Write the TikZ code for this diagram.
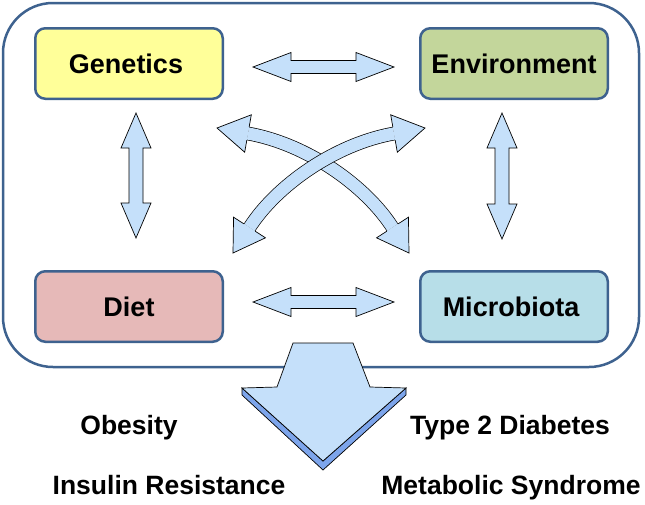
\documentclass[tikz,border=0pt]{standalone}
\usepackage{fontspec}
\setmainfont{Liberation Sans}
\usetikzlibrary{calc}
\definecolor{frameblue}{RGB}{62,98,143}
\definecolor{genfill}{RGB}{255,255,153}
\definecolor{envfill}{RGB}{195,214,155}
\definecolor{dietfill}{RGB}{230,185,184}
\definecolor{microfill}{RGB}{183,222,232}
\definecolor{arrowfill}{RGB}{197,224,250}
\definecolor{shadowblue}{RGB}{125,165,235}
% straight double arrow: from, to, head length, head half width, shaft half width
\newcommand\fatdbl[5]{%
  \draw[fatarrow] (#1)
    -- ($(#1)!#3!(#2)!#4!90:(#2)$)
    -- ($(#1)!#3!(#2)!#5!90:(#2)$)
    -- ($(#2)!#3!(#1)!#5!-90:(#1)$)
    -- ($(#2)!#3!(#1)!#4!-90:(#1)$)
    -- (#2)
    -- ($(#2)!#3!(#1)!#4!90:(#1)$)
    -- ($(#2)!#3!(#1)!#5!90:(#1)$)
    -- ($(#1)!#3!(#2)!#5!-90:(#2)$)
    -- ($(#1)!#3!(#2)!#4!-90:(#2)$)
    -- cycle;}
% head of a curved arrow: base, tip
\newcommand\curvedhead[2]{%
  \fill[arrowfill] ($(#1)!19pt!90:(#2)$) -- (#2) -- ($(#1)!19pt!-90:(#2)$) -- cycle;
  \draw[arrowline] ($(#1)!6.8pt!90:(#2)$) -- ($(#1)!19pt!90:(#2)$) -- (#2)
    -- ($(#1)!19pt!-90:(#2)$) -- ($(#1)!6.8pt!-90:(#2)$);}
\begin{document}
\begin{tikzpicture}[x=1pt,y=-1pt,
  box/.style={draw=frameblue, line width=2.5pt, rounded corners=10pt,
    minimum width=187.5pt, minimum height=70.5pt, inner sep=0pt,
    font=\bfseries\fontsize{27}{31}\selectfont},
  lbl/.style={font=\bfseries\fontsize{26.5}{30}\selectfont, anchor=base, inner sep=0pt},
  fatarrow/.style={draw=black, line width=0.7pt, fill=arrowfill, line join=miter},
  arrowline/.style={draw=black, line width=0.7pt, line join=miter},
  shaft/.style={line width=0.7pt, double=arrowfill, double distance=12.3pt},
  frame/.style={draw=frameblue, line width=2.5pt, rounded corners=50pt}]
\useasboundingbox (0,0) rectangle (645,504);
\fill[white] (0,0) rectangle (645,504);
% outer frame
\draw[frame] (3,3) rectangle (639,367);
% boxes
\node[box, fill=genfill] (gen) at (129,63.5) {Genetics\hspace*{6pt}};
\node[box, fill=envfill] (env) at (514,63.5) {Environment};
\node[box, fill=dietfill] (diet) at (129,306.5) {Diet};
\node[box, fill=microfill] (micro) at (514,306.5) {Microbiota\hspace*{6pt}};
% straight connectors
\coordinate (ht1) at ($(gen.east)+(29,3.5)$);
\coordinate (ht2) at ($(env.west)+(-25,3.5)$);
\coordinate (hb1) at ($(diet.east)+(29,-4.5)$);
\coordinate (hb2) at ($(micro.west)+(-25,-4.5)$);
\coordinate (vl1) at ($(gen.south)+(7,13)$);
\coordinate (vl2) at ($(diet.north)+(7,-32)$);
\coordinate (vr1) at ($(env.south)+(-12,13)$);
\coordinate (vr2) at ($(micro.north)+(-12,-31)$);
\fatdbl{ht1}{ht2}{38pt}{14.5pt}{6.5pt}
\fatdbl{hb1}{hb2}{38pt}{14.5pt}{6.5pt}
\fatdbl{vl1}{vl2}{35pt}{15pt}{7pt}
\fatdbl{vr1}{vr2}{35pt}{15pt}{7pt}
% curved connectors
\coordinate (c1t) at (217,128);
\coordinate (c1s) at (248,133.5);
\coordinate (c1e) at (392.5,227.5);
\coordinate (c1u) at (409,253);
\coordinate (c2t) at (425,128);
\coordinate (c2s) at (394,133.5);
\coordinate (c2e) at (249.5,227.5);
\coordinate (c2u) at (233,253);
\draw[shaft] (c1s) .. controls (307,144) and (365.5,185.5) .. (c1e);
\curvedhead{c1s}{c1t}
\curvedhead{c1e}{c1u}
\draw[shaft] (c2s) .. controls (335,144) and (276.5,185.5) .. (c2e);
\curvedhead{c2s}{c2t}
\curvedhead{c2e}{c2u}
% big down arrow
\filldraw[fill=shadowblue, draw=black, line width=0.7pt, line join=miter]
  (242,388) -- (323,461) -- (406,388) -- (406,395) -- (323,470) -- (242,395) -- cycle;
\filldraw[fill=arrowfill, draw=black, line width=0.7pt, line join=miter]
  (293,343) -- (353,343) -- (370,387) -- (406,388) -- (323,461) -- (242,388) -- (277,387) -- cycle;
% outcome labels
\node[lbl] (ob) at (129,434) {Obesity};
\node[lbl] (t2d) at (510,434) {Type 2 Diabetes};
\node[lbl] (ir) at (169,494) {Insulin Resistance};
\node[lbl] (ms) at (511,494) {Metabolic Syndrome};
\end{tikzpicture}
\end{document}
